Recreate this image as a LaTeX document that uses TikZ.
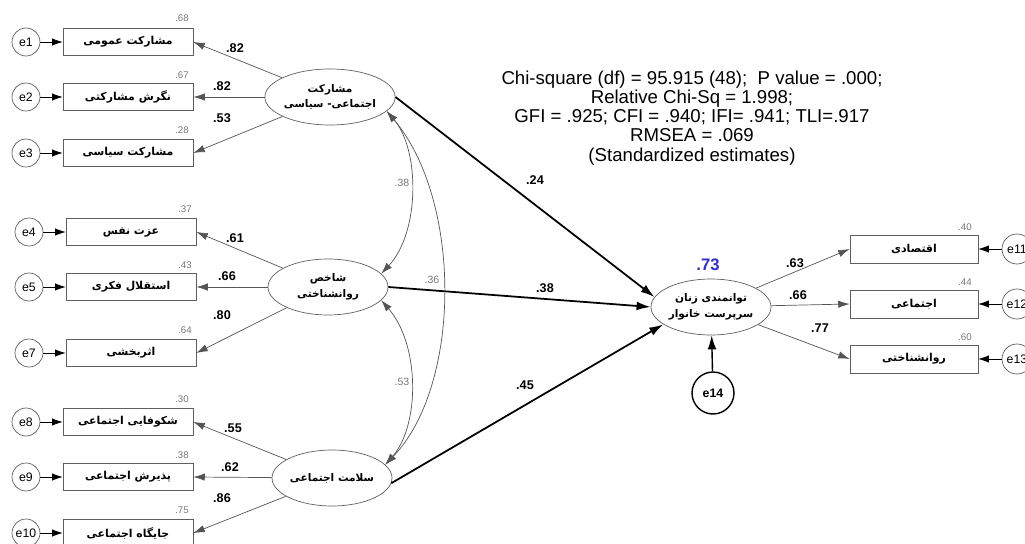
\documentclass[tikz,border=0pt]{standalone}
\usepackage{fontspec}
\setmainfont{Liberation Sans}
\newfontfamily\fafont[Script=Arabic]{DejaVu Sans}
\TeXXeTstate=1
\usepackage{tikz}
\usetikzlibrary{arrows.meta, shapes.geometric}
\definecolor{boxGray}{RGB}{95, 95, 95}
\definecolor{lineGray}{RGB}{85, 85, 85}
\definecolor{varGray}{RGB}{120, 120, 120}
\definecolor{estBlue}{RGB}{45, 45, 215}
\newcommand{\fa}[1]{\beginR #1\endR}

\begin{document}
\begin{tikzpicture}[x=0.02cm, y=-0.02cm,
    obs/.style={draw=boxGray, minimum width=2.6cm, minimum height=0.54cm, inner sep=0pt,
      font=\fafont\bfseries\fontsize{6.2}{7}\selectfont},
    err/.style={circle, draw=boxGray, minimum size=0.56cm, inner sep=0pt,
      font=\fontsize{7}{8}\selectfont},
    lat/.style={ellipse, draw=boxGray, minimum width=2.4cm, minimum height=1.12cm, inner sep=0pt,
      align=center, font=\fafont\bfseries\fontsize{6}{9}\selectfont},
    load/.style={draw=lineGray, -{Latex[length=6.5pt,width=4.2pt]}},
    errarr/.style={draw=black, -{Latex[length=6pt,width=4.2pt]}},
    strc/.style={draw=black, line width=1pt, -{Latex[length=8pt,width=5pt]}},
    cov/.style={draw=lineGray, {Latex[length=6.5pt,width=4.2pt]}-{Latex[length=6.5pt,width=4.2pt]}},
    est/.style={font=\bfseries\fontsize{7.2}{8}\selectfont},
    var/.style={text=varGray, font=\fontsize{5.5}{6}\selectfont},
    cv/.style={text=varGray, font=\fontsize{6}{7}\selectfont}]
  \useasboundingbox (0,0) rectangle (1025,544);

  % first latent and its indicators
  \node[obs] (b1) at (128,42) {\fa{مشارکت عمومی}};
  \node[obs] (b2) at (128,97) {\fa{نگرش مشارکتی}};
  \node[obs] (b3) at (128,153) {\fa{مشارکت سیاسی}};
  \node[err] (e1) at (26,42) {e1};
  \node[err] (e2) at (26,97) {e2};
  \node[err] (e3) at (26,153) {e3};
  \node[lat] (L1) at (330,97) {\fa{مشارکت}\\\fa{اجتماعی- سیاسی}};

  % second latent
  \node[obs] (b4) at (131,232) {\fa{عزت نفس}};
  \node[obs] (b5) at (131,287) {\fa{استقلال فکری}};
  \node[obs] (b7) at (131,353) {\fa{اثربخشی}};
  \node[err] (e4) at (29,232) {e4};
  \node[err] (e5) at (29,287) {e5};
  \node[err] (e7) at (29,353) {e7};
  \node[lat] (L2) at (328,287) {\fa{شاخص}\\\fa{روانشناختی}};

  % third latent
  \node[obs] (b8) at (128,422) {\fa{شکوفایی اجتماعی}};
  \node[obs] (b9) at (128,477) {\fa{پذیرش اجتماعی}};
  \node[obs] (b10) at (128,533) {\fa{جایگاه اجتماعی}};
  \node[err] (e8) at (26,422) {e8};
  \node[err] (e9) at (26,477) {e9};
  \node[err] (e10) at (26,533) {e10};
  \node[lat] (L3) at (332,478) {\fa{سلامت اجتماعی}};

  % outcome
  \node[lat] (Y) at (711,307) {\fa{توانمندی زنان}\\\fa{سرپرست خانوار}};
  \node[circle, draw=black, thick, minimum size=0.84cm, inner sep=0pt,
    font=\bfseries\fontsize{7}{8}\selectfont] (e14) at (713,393) {e14};
  \node[obs, minimum width=2.56cm, minimum height=0.56cm] (r1) at (914,249) {\fa{اقتصادی}};
  \node[obs, minimum width=2.56cm, minimum height=0.56cm] (r2) at (914,304) {\fa{اجتماعی}};
  \node[obs, minimum width=2.56cm, minimum height=0.56cm] (r3) at (914,359) {\fa{روانشناختی}};
  \node[err, minimum size=0.6cm] (e11) at (1017,249) {e11};
  \node[err, minimum size=0.6cm] (e12) at (1017,304) {e12};
  \node[err, minimum size=0.6cm] (e13) at (1017,359) {e13};

  % errors to indicators
  \draw[errarr] (e1) -- (b1.west);
  \draw[errarr] (e2) -- (b2.west);
  \draw[errarr] (e3) -- (b3.west);
  \draw[errarr] (e4) -- (b4.west);
  \draw[errarr] (e5) -- (b5.west);
  \draw[errarr] (e7) -- (b7.west);
  \draw[errarr] (e8) -- (b8.west);
  \draw[errarr] (e9) -- (b9.west);
  \draw[errarr] (e10) -- (b10.west);
  \draw[errarr] (e11) -- (r1.east);
  \draw[errarr] (e12) -- (r2.east);
  \draw[errarr] (e13) -- (r3.east);
  \draw[strc, line width=0.8pt] (e14) -- (Y);

  % loadings
  \draw[load] (L1) -- (b1.east);
  \draw[load] (L1) -- (b2.east);
  \draw[load] (L1) -- (b3.east);
  \draw[load] (L2) -- (b4.east);
  \draw[load] (L2) -- (b5.east);
  \draw[load] (L2) -- (b7.east);
  \draw[load] (L3) -- (b8.east);
  \draw[load] (L3) -- (b9.east);
  \draw[load] (L3) -- (b10.east);
  \draw[load] (Y) -- (r1.west);
  \draw[load] (Y) -- (r2.west);
  \draw[load] (Y) -- (r3.west);

  \node[est] at (235,48) {.82};
  \node[est] at (222,86) {.82};
  \node[est] at (222,118) {.53};
  \node[est] at (235,238) {.61};
  \node[est] at (227,276) {.66};
  \node[est] at (222,315) {.80};
  \node[est] at (233,428) {.55};
  \node[est] at (230,467) {.62};
  \node[est] at (222,498) {.86};
  \node[est] at (795,263) {.63};
  \node[est] at (798,295) {.66};
  \node[est] at (820,328) {.77};

  % squared multiple correlations
  \node[var] at (182,18) {.68};
  \node[var] at (182,75) {.67};
  \node[var] at (182,130) {.28};
  \node[var] at (185,209) {.37};
  \node[var] at (185,265) {.43};
  \node[var] at (185,330) {.64};
  \node[var] at (182,399) {.30};
  \node[var] at (182,455) {.38};
  \node[var] at (182,510) {.75};
  \node[var] at (965,227) {.40};
  \node[var] at (965,282) {.44};
  \node[var] at (965,337) {.60};
  \node[text=estBlue, font=\bfseries\fontsize{9.5}{10}\selectfont] at (708,265) {.73};

  % structural paths
  \draw[strc] (L1.east) -- (Y.170);
  \draw[strc] (L2.east) -- (Y.west);
  \draw[strc] (L3.-5) -- (Y.200);
  \node[est] at (535,180) {.24};
  \node[est] at (545,288) {.38};
  \node[est] at (525,385) {.45};

  % correlations
  \draw[cov] (L1.-14) .. controls (420,150) and (420,232) .. (L2.14);
  \draw[cov] (L2.-14) .. controls (420,345) and (420,425) .. (L3.14);
  \draw[cov] (L1.-14) .. controls (462,200) and (462,385) .. (L3.14);
  \node[cv] at (402,183) {.38};
  \node[cv] at (432,280) {.36};
  \node[cv] at (402,382) {.53};

  \node[align=center, font=\fontsize{10.6}{10.9}\selectfont] (fit) at (692,118)
    {Chi-square (df) = 95.915 (48); \ P value = .000;\\
     Relative Chi-Sq = 1.998;\\
     GFI = .925; CFI = .940; IFI= .941; TLI=.917\\
     RMSEA = .069\\
     (Standardized estimates)};
\end{tikzpicture}
\end{document}
